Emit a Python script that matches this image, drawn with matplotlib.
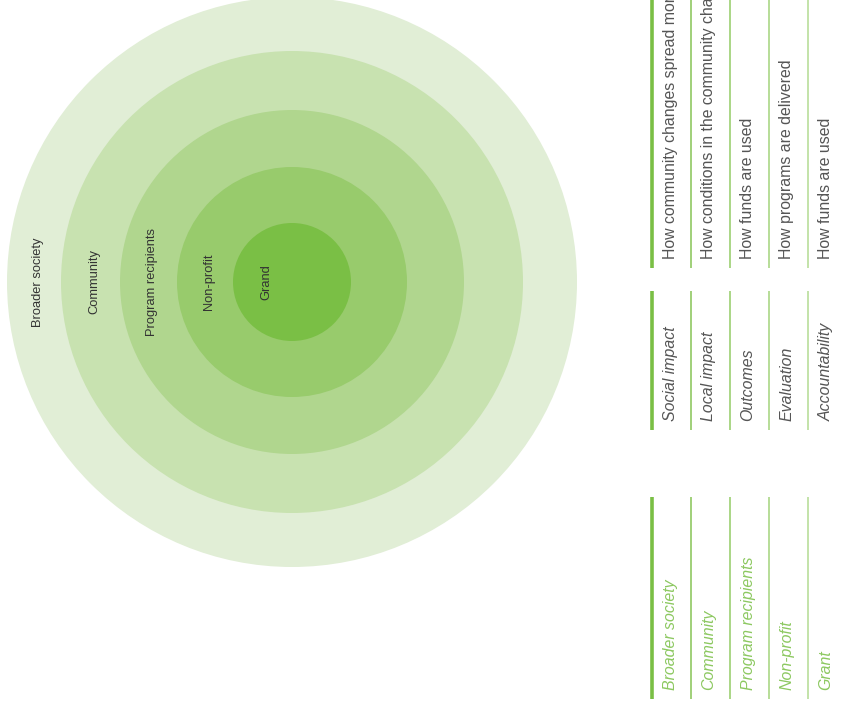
import matplotlib.pyplot as plt
from matplotlib.patches import Circle

plt.rcParams['font.family'] = ['Liberation Sans', 'DejaVu Sans']

# rings, outermost first
ring_labels = ['Broader society', 'Community', 'Program recipients', 'Non-profit', 'Grand']
ring_radii = [285, 231, 172, 115, 59]
ring_colors = ['#e1eed6', '#c8e2b0', '#b0d68e', '#98cb6c', '#7abf45']

# table, one row per ring
row_labels = ['Broader society', 'Community', 'Program recipients', 'Non-profit', 'Grant']
row_focus = ['Social impact', 'Local impact', 'Outcomes', 'Evaluation', 'Accountability']
row_questions = ['How community changes spread more broadly',
                 'How conditions in the community change',
                 'How funds are used',
                 'How programs are delivered',
                 'How funds are used']
rule_colors = ['#7abf45', '#86c455', '#93cb66', '#a3d37c', '#b3db92']

fig = plt.figure(figsize=(8.46, 7.07), dpi=100)
ax = fig.add_axes([0, 0, 1, 1])
ax.set_xlim(0, 846)
ax.set_ylim(707, 0)
ax.axis('off')

cx, cy = 292, 282
for i, (r, c, lab) in enumerate(zip(ring_radii, ring_colors, ring_labels)):
    ax.add_patch(Circle((cx, cy), r, facecolor=c, edgecolor='none', zorder=i))
    # label sits in the left part of each ring
    inner = ring_radii[i + 1] if i + 1 < len(ring_radii) else 0
    x = cx - r + (r - inner) * 0.5 + 4 if inner else cx - r + 33
    ax.text(x, cy, lab, rotation=90, ha='center', va='center',
            fontsize=9.3, color='#333333', zorder=10)

# three blocks of the rotated table: (bottom y, top y, texts, style, colour)
blocks = [
    (268, 0, row_questions, 'normal', '#555555'),
    (430, 291, row_focus, 'italic', '#555555'),
    (699, 497, row_labels, 'italic', '#8cc860'),
]
x0, step = 652, 39
for bottom, top, texts, style, tc in blocks:
    for j, t in enumerate(texts):
        x = x0 + j * step
        ax.plot([x, x], [bottom, top], color=rule_colors[j],
                lw=2.6 if j == 0 else 1.1, solid_capstyle='butt')
        ax.text(x + 18, bottom - 9, t, rotation=90, ha='center', va='bottom',
                fontsize=11.4, style=style, color=tc)

fig.savefig('out.png', dpi=100)
